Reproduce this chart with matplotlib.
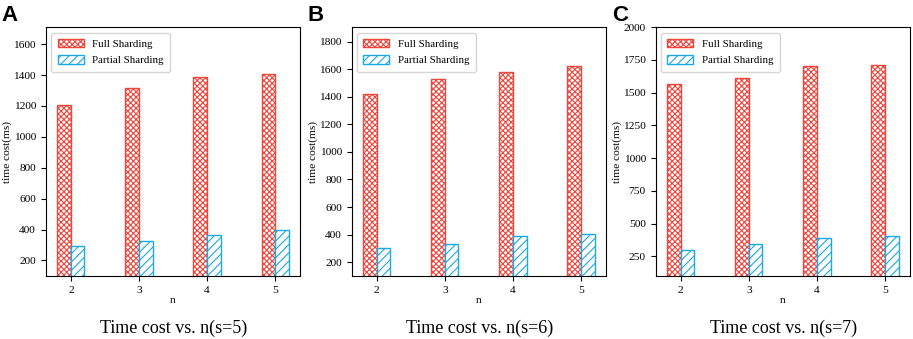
import numpy as np
import matplotlib.pyplot as plt

plt.rcParams['font.family'] = 'Liberation Serif'
plt.rcParams['hatch.linewidth'] = 0.8

n = [2, 3, 4, 5]
full_a = [1205, 1315, 1385, 1405]
part_a = [295, 325, 365, 400]
full_b = [1420, 1530, 1580, 1620]
part_b = [300, 330, 390, 405]
full_c = [1565, 1610, 1700, 1710]
part_c = [300, 345, 390, 405]
s_vals = [5, 6, 7]
panel_labels = ['A', 'B', 'C']

red = '#f0433a'
blue = '#1aa9e5'

fig = plt.figure(figsize=(9.13, 3.39), dpi=100)
lefts = [0.050, 0.385, 0.718]
data = [(full_a, part_a, 1710, [200, 400, 600, 800, 1000, 1200, 1400, 1600]),
        (full_b, part_b, 1905, [200, 400, 600, 800, 1000, 1200, 1400, 1600, 1800]),
        (full_c, part_c, 2000, [250, 500, 750, 1000, 1250, 1500, 1750, 2000])]

for i, (full, part, ytop, yt) in enumerate(data):
    ax = fig.add_axes([lefts[i], 0.186, 0.279, 0.734])
    x = np.array(n)
    ax.bar(x - 0.1, full, 0.2, color='white', edgecolor=red, hatch='xxxxxx', label='Full Sharding', linewidth=1)
    ax.bar(x + 0.1, part, 0.2, color='white', edgecolor=blue, hatch='////', label='Partial Sharding', linewidth=1)
    ax.set_ylim(100, ytop)
    ax.set_yticks(yt)
    ax.set_xticks(n)
    ax.tick_params(labelsize=8.2)
    ax.set_xlabel('n', fontsize=8.2, labelpad=1)
    ax.set_ylabel('time cost(ms)', fontsize=8.2, labelpad=1)
    ax.legend(loc='upper left', fontsize=7.8, handlelength=2.4, handleheight=0.8,
              borderpad=0.6, labelspacing=0.6)
    fig.text(lefts[i] + 0.140, 0.017, 'Time cost vs. n(s=%d)' % s_vals[i], ha='center', va='baseline', fontsize=13)
    fig.text(lefts[i] - 0.048, 0.985, panel_labels[i], ha='left', va='top', fontsize=16, fontweight='bold', family='Liberation Sans')

fig.savefig('out.png', dpi=100)
